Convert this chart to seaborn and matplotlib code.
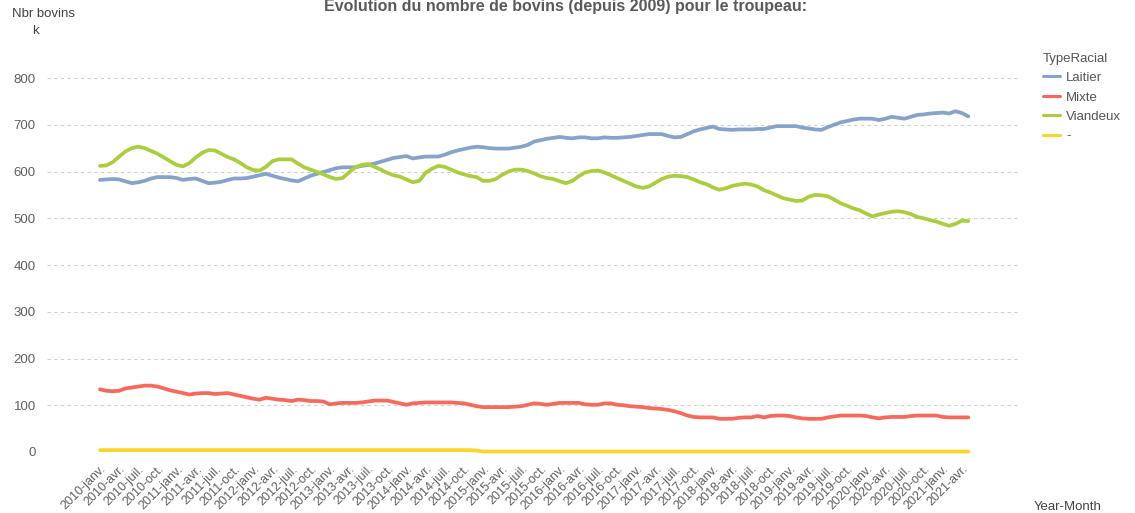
import numpy as np
import pandas as pd
import matplotlib
matplotlib.use("Agg")
import matplotlib.pyplot as plt
import seaborn as sns

# ------------ DATA (monthly, in thousands) ------------
MOIS = ['janv.', 'févr.', 'mars', 'avr.', 'mai', 'juin',
        'juil.', 'août', 'sept.', 'oct.', 'nov.', 'déc.']
ANNEES = list(range(2010, 2022))

laitier = [
    582, 583, 584, 583, 579, 575, 577, 580, 585, 588, 588, 588,   # 2010
    586, 582, 584, 585, 580, 575, 576, 578, 582, 585, 585, 586,   # 2011
    589, 592, 595, 591, 587, 584, 581, 579, 585, 591, 595, 599,   # 2012
    603, 607, 609, 609, 609, 612, 614, 617, 621, 625, 629, 631,   # 2013
    633, 628, 630, 632, 632, 632, 636, 641, 645, 648, 651, 653,   # 2014
    652, 650, 649, 649, 649, 651, 653, 657, 664, 667, 670, 672,   # 2015
    674, 672, 671, 673, 673, 671, 671, 673, 672, 672, 673, 674,   # 2016
    676, 678, 680, 680, 680, 676, 673, 674, 680, 686, 690, 693,   # 2017
    696, 691, 690, 689, 690, 690, 690, 691, 691, 694, 697, 697,   # 2018
    697, 697, 694, 692, 690, 689, 695, 700, 705, 708, 711, 713,   # 2019
    713, 713, 710, 713, 717, 715, 713, 717, 721, 722, 724, 725,   # 2020
    726, 724, 729, 725, 718,                                      # 2021
]
mixte = [
    134, 131, 130, 131, 136, 138, 140, 142, 142, 140, 136, 132,
    129, 126, 123, 125, 126, 126, 124, 125, 126, 123, 120, 117,
    114, 112, 116, 114, 112, 111, 109, 112, 111, 109, 109, 108,
    102, 104, 105, 105, 105, 106, 108, 110, 110, 110, 107, 104,
    101, 104, 105, 106, 106, 106, 106, 106, 105, 104, 101, 98,
    96, 96, 96, 96, 96, 97, 98, 101, 104, 103, 101, 103,
    105, 105, 105, 105, 102, 101, 101, 104, 104, 101, 100, 98,
    97, 96, 94, 93, 92, 90, 87, 83, 78, 75, 74, 74,
    74, 71, 71, 71, 73, 74, 74, 77, 74, 77, 78, 78,
    77, 74, 72, 71, 71, 71, 74, 76, 78, 78, 78, 78,
    77, 74, 72, 74, 75, 75, 75, 77, 78, 78, 78, 78,
    75, 74, 74, 74, 74,
]
viandeux = [
    612, 613, 620, 632, 643, 650, 653, 650, 644, 638, 630, 622,
    614, 611, 618, 630, 640, 646, 645, 638, 631, 626, 618, 609,
    603, 602, 610, 622, 626, 626, 626, 617, 609, 604, 599, 594,
    588, 584, 586, 598, 609, 614, 616, 610, 604, 597, 592, 589,
    583, 577, 580, 597, 606, 612, 610, 604, 598, 594, 590, 588,
    580, 580, 584, 593, 600, 604, 604, 601, 596, 590, 586, 584,
    579, 575, 580, 590, 598, 601, 602, 598, 592, 586, 580, 574,
    568, 565, 568, 576, 584, 589, 591, 590, 588, 583, 577, 573,
    566, 561, 564, 569, 572, 574, 572, 568, 560, 555, 549, 543,
    540, 537, 538, 546, 550, 549, 547, 540, 532, 527, 521, 517,
    510, 504, 508, 511, 514, 515, 513, 509, 503, 500, 496, 493,
    488, 484, 488, 495, 494,
]
autre = [
    4, 4, 4, 4, 4, 4, 4, 4, 4, 4, 4, 4,
    4, 4, 4, 4, 4, 4, 4, 4, 4, 4, 4, 4,
    4, 4, 4, 4, 4, 4, 4, 4, 4, 4, 4, 4,
    4, 4, 4, 4, 4, 4, 4, 4, 4, 4, 4, 4,
    4, 4, 4, 4, 4, 4, 4, 4, 4, 4, 4, 3,
    1, 1, 1, 1, 1, 1, 1, 1, 1, 1, 1, 1,
    1, 1, 1, 1, 1, 1, 1, 1, 1, 1, 1, 1,
    1, 1, 1, 1, 1, 1, 1, 1, 1, 1, 1, 1,
    1, 1, 1, 1, 1, 1, 1, 1, 1, 1, 1, 1,
    1, 1, 1, 1, 1, 1, 1, 1, 1, 1, 1, 1,
    1, 1, 1, 1, 1, 1, 1, 1, 1, 1, 1, 1,
    1, 1, 1, 1, 1,
]

TYPES = ['Laitier', 'Mixte', 'Viandeux', '-']
PALETTE = {'Laitier': '#86A3CC', 'Mixte': '#F8695C',
           'Viandeux': '#AACF3E', '-': '#FCD52C'}

# ------------ BUILD LONG TABLE ------------
labels = [f"{a}-{m}" for a in ANNEES for m in MOIS][:len(laitier)]
pos = np.arange(len(labels))
df = pd.concat([
    pd.DataFrame({'idx': pos, 'Year-Month': labels, 'Nbr': vals, 'TypeRacial': t})
    for t, vals in zip(TYPES, [laitier, mixte, viandeux, autre])
])

# ------------ PLOT ------------
sns.set_theme(style='white')
plt.rcParams['font.family'] = ['Liberation Sans', 'DejaVu Sans']

fig = plt.figure(figsize=(11.35, 5.13), dpi=100)
ax = fig.add_axes([47 / 1135, 61 / 513, 973 / 1135, 374 / 513])

sns.lineplot(data=df, x='idx', y='Nbr', hue='TypeRacial', hue_order=TYPES,
             palette=PALETTE, linewidth=2.7, ax=ax, legend=True)
for ln in ax.lines:
    ln.set_clip_on(False)

ax.set_ylim(0, 800)
ax.set_xlim(-8.3, 144.1)
ax.set_yticks(range(0, 801, 100))
ax.yaxis.grid(True, linestyle=(0, (3, 3)), color='#cfcfcf', linewidth=0.8)
ax.xaxis.grid(False)
ax.set_axisbelow(True)
for s in ax.spines.values():
    s.set_visible(False)

ax.set_xticks(pos[::3])
ax.set_xticklabels(labels[::3], rotation=45, ha='right', rotation_mode='anchor',
                   fontsize=9, color='#606060')
ax.tick_params(axis='x', length=0, pad=8)
ax.tick_params(axis='y', length=0, pad=8, labelsize=9.5, labelcolor='#606060')
ax.set_xlabel('')
ax.set_ylabel('')

fig.text(43 / 1135, 1 - 14 / 513, 'Nbr bovins', ha='center', va='center',
         fontsize=9.5, color='#444444')
fig.text(35 / 1135, 1 - 31 / 513, 'k', ha='center', va='center',
         fontsize=9.5, color='#444444')
fig.text(1068 / 1135, 1 - 507 / 513, 'Year-Month', ha='center', va='center',
         fontsize=9.5, color='#444444')
fig.text(566 / 1135, 1 - 6 / 513,
         'Evolution du nombre de bovins (depuis 2009) pour le troupeau:',
         ha='center', va='center', fontsize=11.5, fontweight='bold',
         color='#5a5a5a')

handles, lbls = ax.get_legend_handles_labels()
leg = ax.legend(handles, lbls, title='TypeRacial', loc='upper left',
                bbox_to_anchor=(1036 / 1135, 1 - 46 / 513),
                bbox_transform=fig.transFigure, frameon=False,
                fontsize=9.5, title_fontsize=9.5, alignment='left',
                handlelength=1.3, handletextpad=0.5, labelspacing=0.55,
                borderpad=0)
for t in leg.get_texts():
    t.set_color('#555555')
leg.get_title().set_color('#555555')
for h in leg.get_lines():
    h.set_linewidth(2.2)

fig.savefig('out.png', dpi=100)
